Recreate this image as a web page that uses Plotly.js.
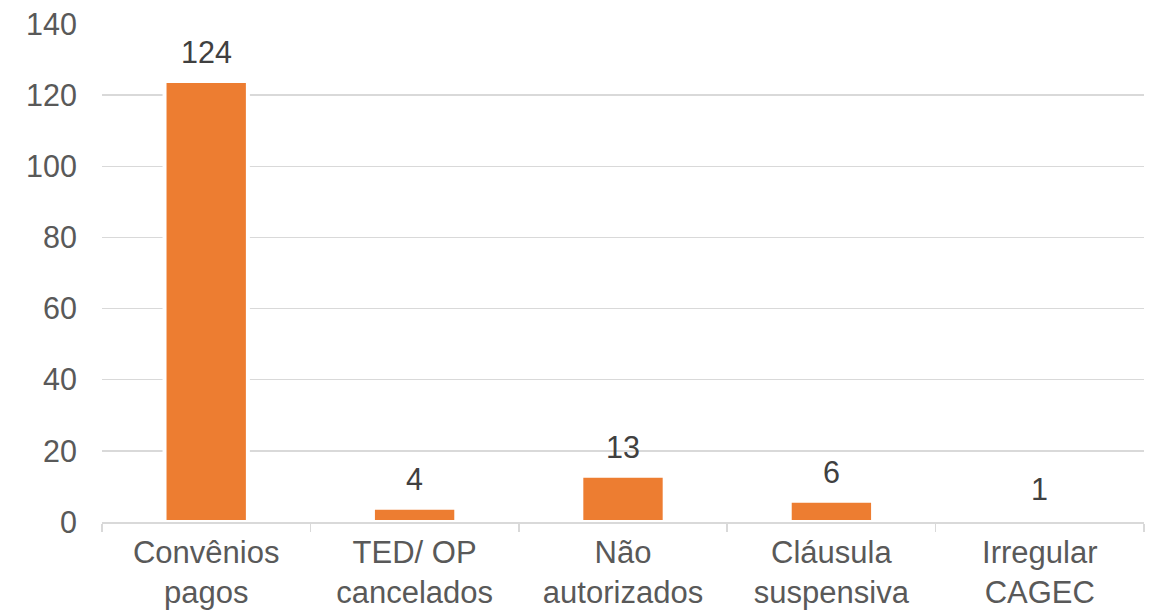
<!DOCTYPE html>
<html>
<head>
<meta charset="utf-8">
<script src="https://cdn.plot.ly/plotly-3.0.1.min.js"></script>
<style>html,body{margin:0;padding:0;background:#fff;}#chart{width:1153px;height:613px;}</style>
</head>
<body>
<div id="chart"></div>
<script>
const categories = ["Convênios<br>pagos", "TED/ OP<br>cancelados", "Não<br>autorizados", "Cláusula<br>suspensiva", "Irregular<br>CAGEC"];
const values = [124, 4, 13, 6, 1];
const labels = ["124", "4", "13", "6", "1"];
const yTicks = [0, 20, 40, 60, 80, 100, 120, 140];

const FONT = "Liberation Sans, Arial, sans-serif";

const trace = {
  type: "bar",
  x: categories,
  y: values,
  marker: { color: "#ED7D31", line: { color: "#ffffff", width: 4 } },
  hoverinfo: "x+y"
};

const annotations = categories.map((c, i) => ({
  x: c, y: values[i], xref: "x", yref: "y",
  text: labels[i], showarrow: false,
  yanchor: "bottom", yshift: 10,
  font: { family: FONT, size: 30.5, color: "#404040" }
}));

const layout = {
  width: 1153, height: 613,
  margin: { l: 102, r: 9, t: 24, b: 91 },
  paper_bgcolor: "#ffffff", plot_bgcolor: "#ffffff",
  showlegend: false,
  bargap: 0.6,
  font: { family: FONT, color: "#595959" },
  xaxis: {
    type: "category",
    showline: true, linecolor: "#d9d9d9", linewidth: 1.5,
    ticks: "outside", tickson: "boundaries", ticklen: 8, tickcolor: "#d9d9d9", tickwidth: 1.5,
    ticklabelstandoff: 2,
    tickfont: { family: FONT, size: 31, color: "#595959" },
    showgrid: false, zeroline: false
  },
  yaxis: {
    range: [0, 140], tickvals: yTicks, ticktext: yTicks.map(String),
    showgrid: true, gridcolor: "#d9d9d9", gridwidth: 1.5,
    zeroline: false, showline: false, ticks: "",
    ticklabelstandoff: 24,
    tickfont: { family: FONT, size: 30.5, color: "#595959" }
  },
  annotations: annotations
};

Plotly.newPlot("chart", [trace], layout, { displayModeBar: false, staticPlot: true });
</script>
</body>
</html>
